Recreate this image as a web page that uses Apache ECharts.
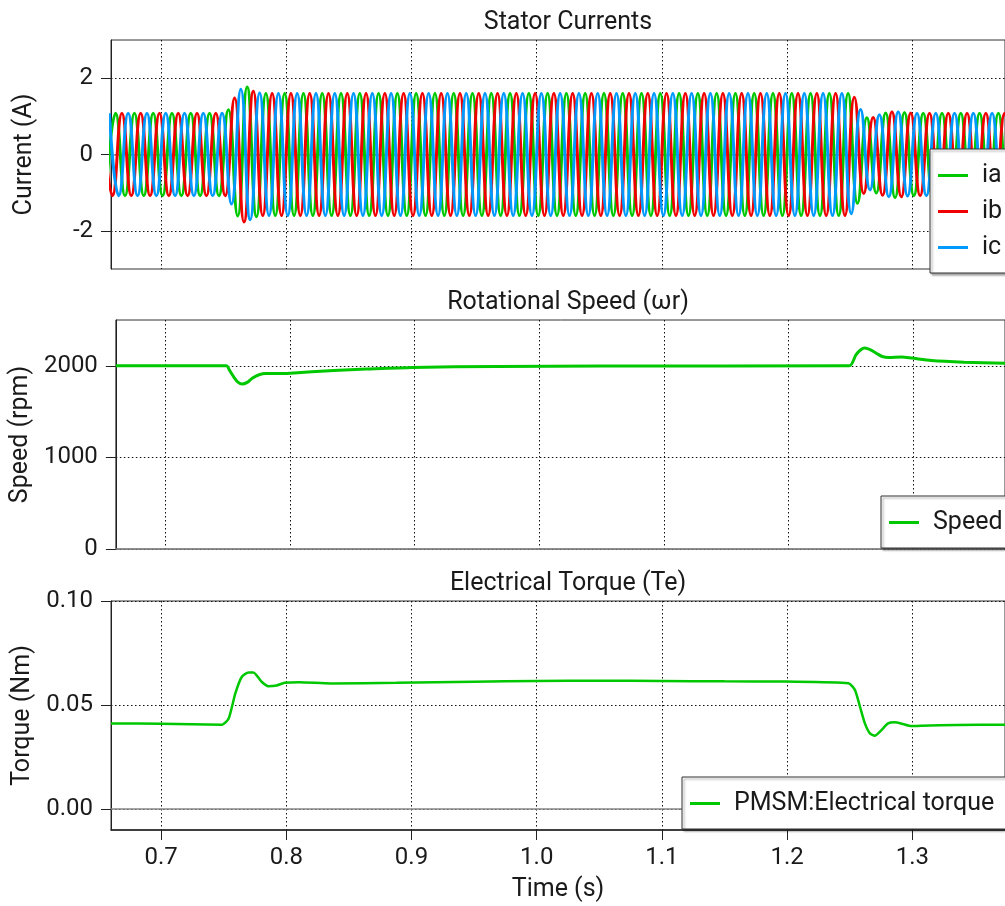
<!DOCTYPE html>
<html>
<head>
<meta charset="utf-8">
<script src="https://cdn.jsdelivr.net/npm/echarts@6/dist/echarts.min.js"></script>
<style>
  html, body { margin: 0; padding: 0; background: #fff; overflow: hidden; }
  #chart { width: 1005px; height: 906px; }
</style>
</head>
<body>
<div id="chart"></div>
<script>
// time axis (s)
const T_MIN = 0.66
const T_MAX = 1.374
const timeTicks = [0.7, 0.8, 0.9, 1.0, 1.1, 1.2, 1.3, 1.4]

// stator currents: successive peak / trough values of each phase (A),
// one every half period starting at the given time
const HALF_PERIOD = 0.0075
const currentStart = { ia: 0.6562, ib: 0.6537, ic: 0.6587 }

const iaPeaks = [
  -1.08, 1.08, -1.08, 1.08, -1.08, 1.08, -1.08, 1.08, -1.08, 1.08, -1.08, 1.08, -1.08,
  1.17, -1.61, 1.77, -1.63,
  1.6, -1.6, 1.6, -1.6, 1.6, -1.6, 1.6, -1.6, 1.6, -1.6,
  1.6, -1.6, 1.6, -1.6, 1.6, -1.6, 1.6, -1.6, 1.6, -1.6,
  1.6, -1.6, 1.6, -1.6, 1.6, -1.6, 1.6, -1.6, 1.6, -1.6,
  1.6, -1.6, 1.6, -1.6, 1.6, -1.6, 1.6, -1.6, 1.6, -1.6,
  1.6, -1.6, 1.6, -1.6, 1.6, -1.6, 1.6, -1.6, 1.6, -1.6,
  1.6, -1.6, 1.6, -1.6, 1.6, -1.6, 1.6, -1.6, 1.6, -1.6,
  1.6, -1.6, 1.6,
  -1.28, 0.96, -1.01, 1.09, -1.13, 1.10,
  -1.08, 1.08, -1.08, 1.08, -1.08, 1.08, -1.08, 1.08, -1.08, 1.08, -1.08, 1.08
]
const ibPeaks = [
  1.08, -1.08, 1.08, -1.08, 1.08, -1.08, 1.08, -1.08, 1.08, -1.08, 1.08, -1.08, 1.08, -1.08,
  1.48, -1.77, 1.66,
  -1.6, 1.6, -1.6, 1.6, -1.6, 1.6, -1.6, 1.6, -1.6, 1.6,
  -1.6, 1.6, -1.6, 1.6, -1.6, 1.6, -1.6, 1.6, -1.6, 1.6,
  -1.6, 1.6, -1.6, 1.6, -1.6, 1.6, -1.6, 1.6, -1.6, 1.6,
  -1.6, 1.6, -1.6, 1.6, -1.6, 1.6, -1.6, 1.6, -1.6, 1.6,
  -1.6, 1.6, -1.6, 1.6, -1.6, 1.6, -1.6, 1.6, -1.6, 1.6,
  -1.6, 1.6, -1.6, 1.6, -1.6, 1.6, -1.6, 1.6, -1.6, 1.6,
  -1.6, 1.6, -1.6,
  1.5, -1.02, 0.97, -1.07, 1.12, -1.11, 1.09,
  -1.08, 1.08, -1.08, 1.08, -1.08, 1.08, -1.08, 1.08, -1.08, 1.08, -1.08
]
const icPeaks = [
  1.08, -1.08, 1.08, -1.08, 1.08, -1.08, 1.08, -1.08, 1.08, -1.08, 1.08, -1.08, 1.08,
  -1.30, 1.71, -1.71, 1.61,
  -1.6, 1.6, -1.6, 1.6, -1.6, 1.6, -1.6, 1.6, -1.6, 1.6,
  -1.6, 1.6, -1.6, 1.6, -1.6, 1.6, -1.6, 1.6, -1.6, 1.6,
  -1.6, 1.6, -1.6, 1.6, -1.6, 1.6, -1.6, 1.6, -1.6, 1.6,
  -1.6, 1.6, -1.6, 1.6, -1.6, 1.6, -1.6, 1.6, -1.6, 1.6,
  -1.6, 1.6, -1.6, 1.6, -1.6, 1.6, -1.6, 1.6, -1.6, 1.6,
  -1.6, 1.6, -1.6, 1.6, -1.6, 1.6, -1.6, 1.6, -1.6, 1.6,
  -1.6, 1.6,
  -1.55, 1.18, -0.93, 1.04, -1.11, 1.12, -1.09,
  1.08, -1.08, 1.08, -1.08, 1.08, -1.08, 1.08, -1.08, 1.08, -1.08, 1.08, -1.08
]
const currentTicks = [-2, 0, 2]

// rotor speed (rpm)
const speedTime = [0.66, 0.7487, 0.7514, 0.7553, 0.758, 0.7613, 0.7659, 0.7698, 0.775, 0.7803,
  0.7935, 0.8, 0.835, 0.8613, 0.898, 0.966, 1.05, 1.249, 1.2543, 1.2582,
  1.2614, 1.2675, 1.2714, 1.2753, 1.2806, 1.2911, 1.299, 1.3148, 1.341, 1.374]
const speedValues = [2000, 2000, 1949, 1866, 1822, 1800, 1822, 1866, 1902, 1916,
  1916, 1920, 1949, 1964, 1982, 1993, 1998, 2000, 2120, 2175,
  2193, 2164, 2131, 2102, 2091, 2095, 2084, 2058, 2040, 2028]
const speedTicks = [0, 1000, 2000]

// electrical torque (Nm)
const torqueTime = [0.66, 0.70, 0.7487, 0.754, 0.7593, 0.7645, 0.7698, 0.7737, 0.7803, 0.7856,
  0.7921, 0.7987, 0.81, 0.8356, 0.888, 0.95, 1.0, 1.05, 1.099, 1.15,
  1.199, 1.249, 1.2542, 1.2582, 1.2621, 1.2661, 1.27, 1.2753, 1.2806, 1.2858,
  1.2925, 1.2991, 1.307, 1.336, 1.374]
const torqueValues = [0.0412, 0.0410, 0.0406, 0.0436, 0.0556, 0.0636, 0.0657, 0.0657, 0.0612, 0.0591,
  0.0594, 0.0607, 0.0610, 0.0604, 0.0607, 0.0612, 0.0616, 0.0617, 0.0616, 0.0614,
  0.0613, 0.0605, 0.0572, 0.0492, 0.0412, 0.0364, 0.0353, 0.0380, 0.0412, 0.0417,
  0.0409, 0.0399, 0.0401, 0.0404, 0.0406]
const torqueTicks = [0, 0.05, 0.10]

const FONT = 'Roboto'
const TEXT = '#1a1a1a'
const TEXT_SIZE = 25
const TICK_SIZE = 24
const GREEN = '#00c800'
const RED = '#f00000'
const BLUE = '#0099ff'

const GRID_TOPS = [40, 320, 601]
const GRID_H = 229

const zip = (xs, ys) => xs.map((x, i) => [x, ys[i]])
const peaksToData = (start, peaks) => peaks.map((v, k) => [start + k * HALF_PERIOD, v])

const dotted = { color: '#111', width: 1, type: [1.5, 2.5] }

function xAxisFor(idx) {
  const bottom = idx === 2
  return {
    type: 'value',
    gridIndex: idx,
    min: T_MIN,
    max: T_MAX,
    name: bottom ? 'Time (s)' : '',
    nameLocation: 'middle',
    nameGap: 47,
    nameTextStyle: { fontFamily: FONT, fontSize: TEXT_SIZE, color: TEXT },
    axisLine: {
      show: true,
      onZero: idx === 0,
      lineStyle: { color: bottom ? '#222' : '#888', width: 1.5 }
    },
    axisTick: { show: bottom, length: 10, customValues: timeTicks, lineStyle: { color: '#222' } },
    axisLabel: {
      show: bottom,
      customValues: timeTicks,
      margin: 16,
      fontFamily: FONT,
      fontSize: TICK_SIZE,
      color: TEXT,
      formatter: v => v.toFixed(1)
    },
    splitLine: { show: true, lineStyle: dotted }
  }
}

function yAxisFor(idx, min, max, ticks, name, fmt) {
  return {
    type: 'value',
    gridIndex: idx,
    min: min,
    max: max,
    name: name,
    nameLocation: 'middle',
    nameGap: 74,
    nameTextStyle: { fontFamily: FONT, fontSize: TEXT_SIZE, color: TEXT },
    axisLine: { show: true, lineStyle: { color: '#222', width: 1 } },
    axisTick: { show: true, length: 10, customValues: ticks, lineStyle: { color: '#222' } },
    axisLabel: {
      customValues: ticks,
      margin: 18,
      fontFamily: FONT,
      fontSize: TICK_SIZE,
      color: TEXT,
      formatter: fmt
    },
    splitLine: { show: true, lineStyle: dotted }
  }
}

function legendFor(names, left, top) {
  return {
    data: names,
    orient: 'vertical',
    left: left,
    top: top,
    padding: [14, 40, 13, 8],
    itemGap: 11,
    itemWidth: 30,
    itemHeight: 3,
    icon: 'rect',
    backgroundColor: '#fff',
    borderColor: '#333',
    borderWidth: 1,
    borderRadius: 0,
    shadowColor: 'rgba(0,0,0,0.35)',
    shadowBlur: 2,
    shadowOffsetX: 2,
    shadowOffsetY: 2,
    textStyle: { fontFamily: FONT, fontSize: TEXT_SIZE, color: TEXT, lineHeight: 22, padding: [0, 0, 0, 9] }
  }
}

function titleFor(text, top) {
  return {
    text: text,
    left: 563,
    textAlign: 'center',
    top: top,
    textStyle: { fontFamily: FONT, fontSize: TEXT_SIZE, fontWeight: 'normal', color: TEXT }
  }
}

const chart = echarts.init(document.getElementById('chart'))

const lineSeries = (name, xi, data, color, width, smooth) => ({
  name: name,
  type: 'line',
  xAxisIndex: xi,
  yAxisIndex: xi,
  data: data,
  showSymbol: false,
  symbol: 'none',
  smooth: smooth,
  lineStyle: { color: color, width: width },
  itemStyle: { color: color },
  z: 3
})

chart.setOption({
  animation: false,
  backgroundColor: '#fff',
  textStyle: { fontFamily: FONT },
  title: [
    titleFor('Stator Currents', 5),
    titleFor('Rotational Speed (ωr)', 285),
    titleFor('Electrical Torque (Te)', 566)
  ],
  grid: GRID_TOPS.map(top => ({
    left: 111,
    top: top,
    width: 904,
    height: GRID_H,
    show: true,
    borderColor: '#333',
    borderWidth: 1,
    backgroundColor: 'transparent'
  })),
  legend: [
    legendFor(['ia', 'ib', 'ic'], 930, 149),
    legendFor(['Speed'], 881, 496),
    legendFor(['PMSM:Electrical torque'], 682, 777)
  ],
  xAxis: [
    xAxisFor(0),
    xAxisFor(1),
    xAxisFor(2),
    {
      type: 'value', gridIndex: 2, position: 'top', min: T_MIN, max: T_MAX,
      axisLine: { show: true, lineStyle: { color: '#888', width: 1.5 } },
      axisTick: { show: false }, axisLabel: { show: false }, splitLine: { show: false }
    }
  ],
  yAxis: [
    yAxisFor(0, -3, 3, currentTicks, 'Current (A)', v => String(v)),
    yAxisFor(1, 0, 2500, speedTicks, 'Speed (rpm)', v => String(v)),
    yAxisFor(2, -0.01, 0.10, torqueTicks, 'Torque (Nm)', v => v.toFixed(2))
  ],
  series: [
    lineSeries('ia', 0, peaksToData(currentStart.ia, iaPeaks), GREEN, 3, 0.5),
    lineSeries('ib', 0, peaksToData(currentStart.ib, ibPeaks), RED, 3, 0.5),
    lineSeries('ic', 0, peaksToData(currentStart.ic, icPeaks), BLUE, 3, 0.5),
    lineSeries('Speed', 1, zip(speedTime, speedValues), GREEN, 3, 0.25),
    lineSeries('PMSM:Electrical torque', 2, zip(torqueTime, torqueValues), GREEN, 2.5, 0.2)
  ]
})
</script>
</body>
</html>
